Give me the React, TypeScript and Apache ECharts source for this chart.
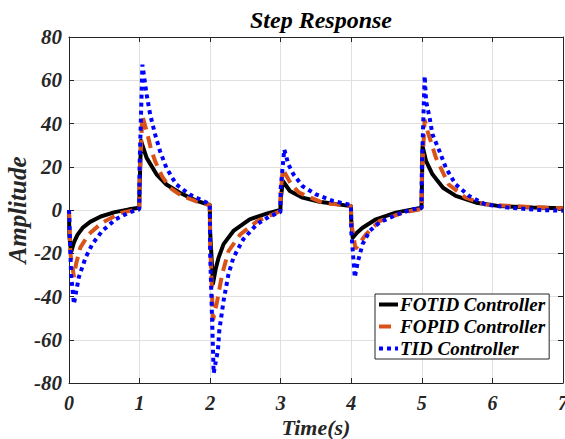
import React, { useEffect, useRef } from "react";
import * as echarts from "echarts";

const xTicks = [0, 1, 2, 3, 4, 5, 6, 7];
const yTicks = [-80, -60, -40, -20, 0, 20, 40, 60, 80];

const seriesNames = ["FOTID Controller", "FOPID Controller", "TID Controller"];

const fotid: number[][] = [
  [0, 0], [0.005, -12], [0.03, -19.5], [0.07, -15], [0.12, -11.5], [0.2, -8], [0.3, -5.5], [0.45, -3], [0.65, -1], [0.85, 0.3], [0.995, 1],
  [1.0, 10], [1.02, 32], [1.1, 24.1], [1.24, 16.5], [1.38, 11.8], [1.57, 8], [1.81, 4.2], [1.995, 2.3],
  [2.0, -10], [2.04, -34], [2.08, -27], [2.12, -22], [2.19, -15.8], [2.33, -9.7], [2.56, -4.3], [2.8, -1.7], [2.995, 0],
  [3.0, 5], [3.03, 13.4], [3.13, 8.8], [3.31, 5.7], [3.55, 3.8], [3.995, 1.8],
  [4.0, -5], [4.02, -12.8], [4.08, -10.5], [4.16, -8.2], [4.35, -4.3], [4.63, -1.2], [4.995, 1.1],
  [5.0, 10], [5.01, 29.5], [5.06, 22.6], [5.15, 16.5], [5.3, 10.3], [5.48, 6.5], [5.77, 3.4], [6.1, 1.8], [6.57, 1.1], [7, 0.8],
];

const fopid: number[][] = [
  [0, 0], [0.02, -20], [0.07, -31], [0.1, -25], [0.16, -17.4], [0.28, -11.2], [0.47, -5.8], [0.75, -1.2], [0.995, 0.5],
  [1.0, 15], [1.04, 43.5], [1.1, 36.5], [1.16, 28.5], [1.22, 22.6], [1.32, 15.5], [1.43, 10.3], [1.6, 6.5], [1.85, 3.4], [1.995, 2.3],
  [2.0, -15], [2.04, -51], [2.1, -42], [2.17, -29.7], [2.26, -19], [2.43, -11.2], [2.67, -5.1], [2.995, -0.5],
  [3.0, 8], [3.03, 18.8], [3.15, 11.8], [3.26, 8], [3.59, 3.4], [3.995, 1.8],
  [4.0, -6], [4.06, -18], [4.21, -11.2], [4.4, -5.1], [4.73, -1.2], [4.995, 0.5],
  [5.0, 15], [5.04, 41.8], [5.08, 36.5], [5.2, 24.1], [5.38, 11.8], [5.62, 5.7], [5.9, 2.6], [6.28, 1.8], [6.75, 1.1], [7, 0.8],
];

const tid: number[][] = [
  [0, 0], [0.03, -30], [0.07, -43.5], [0.1, -38], [0.14, -31], [0.235, -22], [0.33, -15.8], [0.47, -9.7], [0.66, -4.3], [0.85, -1.2], [0.995, 0.3],
  [1.0, 20], [1.04, 67.2], [1.1, 53.4], [1.15, 44.2], [1.22, 35], [1.29, 27.2], [1.38, 19.5], [1.52, 11.8], [1.71, 7.2], [1.95, 3.4], [1.995, 2.5],
  [2.0, -20], [2.05, -75.5], [2.08, -70], [2.11, -65], [2.13, -55.7], [2.19, -42], [2.26, -29.7], [2.33, -22], [2.47, -13.5], [2.66, -6.6], [2.85, -2.8], [2.995, -1],
  [3.0, 10], [3.05, 28], [3.11, 21], [3.18, 16.5], [3.31, 11], [3.5, 7.2], [3.74, 4.2], [3.995, 2.3],
  [4.0, -10], [4.05, -31.2], [4.09, -24.3], [4.16, -15.8], [4.26, -9.7], [4.4, -5.8], [4.63, -2.3], [4.87, 0.3], [4.995, 0.8],
  [5.0, 20], [5.04, 62], [5.06, 50.3], [5.11, 42.6], [5.15, 35], [5.25, 27.2], [5.34, 19.5], [5.48, 11.8], [5.67, 6.5], [5.9, 2.6], [6.23, 1.1], [6.66, 0], [7, -0.3],
];

const FONT = "'Liberation Serif', 'Times New Roman', serif";
const AXIS_COLOR = "#262626";

export default function App() {
  const ref = useRef<HTMLDivElement>(null);

  useEffect(() => {
    document.body.style.margin = "0";
    if (!ref.current) return;
    const chart = echarts.init(ref.current, undefined, { renderer: "svg" });

    const labelStyle = {
      fontFamily: FONT,
      fontWeight: "bold" as const,
      fontStyle: "italic" as const,
      color: AXIS_COLOR,
    };

    const baseX = {
      type: "value" as const,
      min: xTicks[0],
      max: xTicks[xTicks.length - 1],
      interval: 1,
      axisLine: { show: true, onZero: false, lineStyle: { color: AXIS_COLOR, width: 1 } },
      axisTick: { show: true, inside: true, length: 5, lineStyle: { color: AXIS_COLOR } },
    };
    const baseY = {
      type: "value" as const,
      min: yTicks[0],
      max: yTicks[yTicks.length - 1],
      interval: 20,
      axisLine: { show: true, onZero: false, lineStyle: { color: AXIS_COLOR, width: 1 } },
      axisTick: { show: true, inside: true, length: 5, lineStyle: { color: AXIS_COLOR } },
    };

    chart.setOption({
      animation: false,
      backgroundColor: "#ffffff",
      title: {
        text: "Step Response",
        left: 316,
        top: 3,
        textAlign: "center",
        textStyle: { fontFamily: FONT, fontWeight: "bold", fontStyle: "italic", fontSize: 24, color: "#000" },
      },
      grid: { left: 69, right: 2, top: 37, bottom: 56, containLabel: false, outerBoundsMode: "none" },
      legend: {
        data: seriesNames,
        orient: "vertical",
        left: 375,
        top: 294,
        padding: [1, 4, 1, 2],
        itemGap: 3,
        itemWidth: 19,
        itemHeight: 4,
        backgroundColor: "#ffffff",
        borderColor: AXIS_COLOR,
        borderWidth: 1,
        itemStyle: { opacity: 0 },
        lineStyle: { width: 4 },
        textStyle: { fontFamily: FONT, fontWeight: "bold", fontStyle: "italic", fontSize: 19, color: "#000", padding: [0, 0, 0, -3] },
      },
      xAxis: [
        {
          ...baseX,
          position: "bottom",
          name: "Time(s)",
          nameLocation: "middle",
          nameGap: 33,
          nameMoveOverlap: false,
          nameTextStyle: { ...labelStyle, fontSize: 22 },
          axisLabel: { ...labelStyle, fontSize: 20, margin: 10 },
          splitLine: { show: true, lineStyle: { color: "#e0e0e0", width: 1 } },
        },
        {
          ...baseX,
          position: "top",
          axisLabel: { show: false },
          splitLine: { show: false },
        },
      ],
      yAxis: [
        {
          ...baseY,
          position: "left",
          name: "Amplitude",
          nameLocation: "middle",
          nameGap: 39,
          nameMoveOverlap: false,
          nameRotate: 90,
          nameTextStyle: { ...labelStyle, fontSize: 25 },
          axisLabel: { ...labelStyle, fontSize: 21, margin: 7 },
          splitLine: { show: true, lineStyle: { color: "#e0e0e0", width: 1 } },
        },
        {
          ...baseY,
          position: "right",
          axisLabel: { show: false },
          splitLine: { show: false },
        },
      ],
      series: [
        {
          name: seriesNames[0],
          type: "line",
          data: fotid,
          symbol: "none",
          showSymbol: false,
          color: "#000000",
          lineStyle: { color: "#000000", width: 4, type: "solid", join: "round" },
        },
        {
          name: seriesNames[1],
          type: "line",
          data: fopid,
          symbol: "none",
          showSymbol: false,
          color: "#D95319",
          lineStyle: { color: "#D95319", width: 4, type: [12, 7], cap: "butt" },
        },
        {
          name: seriesNames[2],
          type: "line",
          data: tid,
          symbol: "none",
          showSymbol: false,
          color: "#0000FF",
          lineStyle: { color: "#0000FF", width: 4, type: [4, 4], cap: "butt" },
        },
      ],
    });

    return () => chart.dispose();
  }, []);

  return <div ref={ref} style={{ width: 565, height: 439 }} />;
}
